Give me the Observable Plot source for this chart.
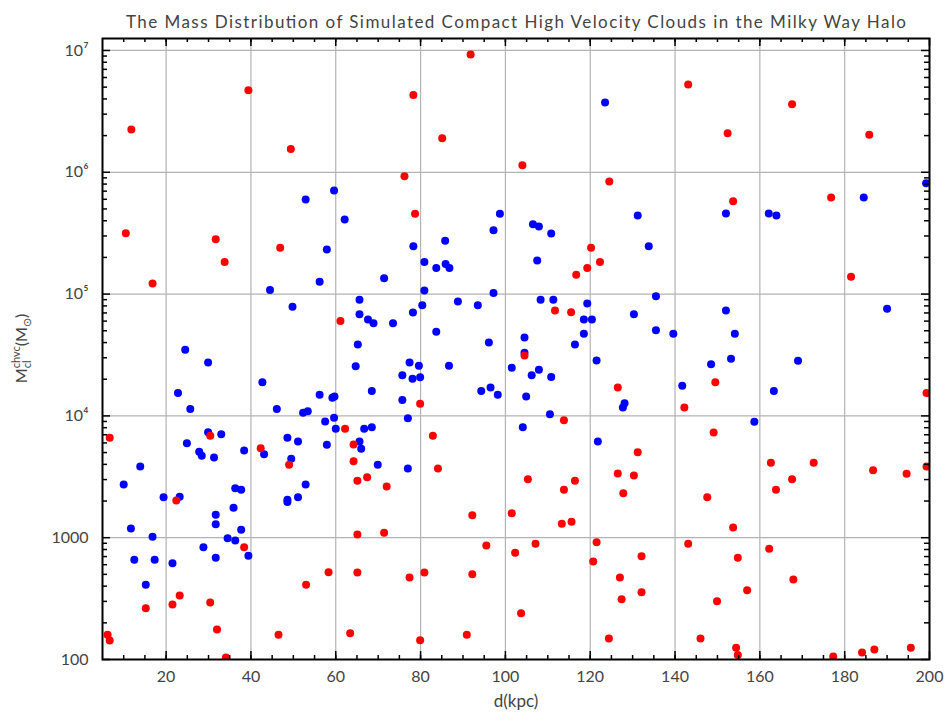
<!DOCTYPE html>
<html><head><meta charset="utf-8">
<script src="https://cdn.jsdelivr.net/npm/d3@7"></script>
<script src="https://cdn.jsdelivr.net/npm/@observablehq/plot@0.6"></script>
<style>body{margin:0;background:#fff;} svg{display:block;}</style>
</head><body><div id="chart"></div>
<script>
const titleText = "The Mass Distribution of Simulated Compact High Velocity Clouds in the Milky Way Halo";
const xLabel = "d(kpc)";
const xTicks = [20, 40, 60, 80, 100, 120, 140, 160, 180, 200];
const yTicks = [100, 1000, 1e4, 1e5, 1e6, 1e7];
const yTickLabels = ["100", "1000", "10⁴", "10⁵", "10⁶", "10⁷"];

const redD = [11.8, 39.4, 49.4, 10.5, 31.7, 33.8, 46.9, 16.8, 61.1, 6.7,
  30.4, 42.3, 49.0, 22.4, 38.4, 58.3, 53.0, 23.2, 21.5, 30.4,
  15.2, 32.0, 46.5, 6.2, 6.7, 34.1, 91.8, 78.3, 85.1, 104.0,
  76.2, 124.5, 78.7, 120.2, 122.3, 119.3, 116.7, 111.7, 115.5, 104.5,
  126.5, 79.9, 113.8, 62.2, 82.9, 64.2, 64.2, 84.1, 126.5, 65.1,
  67.4, 72.0, 105.3, 113.8, 116.4, 127.8, 92.2, 101.5, 113.3, 115.6,
  65.1, 71.4, 95.5, 102.3, 107.1, 121.5, 120.7, 65.1, 77.4, 80.9,
  92.2, 127.0, 127.4, 103.7, 63.4, 79.9, 90.9, 124.4, 143.1, 167.6,
  152.4, 185.8, 176.8, 153.7, 181.5, 149.5, 199.3, 142.2, 149.1, 131.2,
  162.6, 172.7, 186.7, 194.6, 199.3, 130.3, 167.6, 163.8, 147.6, 153.7,
  143.1, 132.1, 154.8, 162.2, 167.9, 132.1, 157.0, 149.9, 146.0, 154.4,
  154.8, 177.3, 184.1, 187.0, 195.6];
const redM = [2.25e6, 4.72e6, 1.55e6, 3.16e5, 2.82e5, 1.83e5, 2.40e5, 1.22e5, 6.0e4, 6610,
  6870, 5430, 3970, 2020, 836, 521, 410, 335, 283, 294,
  264, 176, 160, 160, 143, 104, 9.27e6, 4.30e6, 1.90e6, 1.14e6,
  9.29e5, 8.40e5, 4.56e5, 2.40e5, 1.83e5, 1.64e5, 1.44e5, 7.33e4, 7.10e4, 3.13e4,
  1.71e4, 1.26e4, 9200, 7840, 6870, 5820, 4250, 3700, 3370, 2930,
  3140, 2630, 3020, 2470, 2930, 2320, 1530, 1590, 1300, 1350,
  1060, 1100, 863, 752, 891, 918, 638, 518, 471, 518,
  502, 471, 313, 240, 164, 144, 160, 149, 5.26e6, 3.62e6,
  2.09e6, 2.03e6, 6.21e5, 5.79e5, 1.39e5, 1.89e4, 1.54e4, 1.17e4, 7310, 5040,
  4120, 4120, 3580, 3350, 3840, 3240, 3020, 2470, 2150, 1210,
  891, 705, 684, 811, 454, 357, 371, 301, 149, 125,
  109, 106, 114, 121, 125];

const blueD = [59.6, 52.9, 57.9, 56.2, 44.5, 49.8, 24.5, 29.9, 42.7, 22.8,
  56.2, 59.2, 59.7, 25.7, 46.1, 52.3, 53.4, 59.6, 57.5, 60.0,
  29.9, 33.0, 48.6, 51.1, 24.9, 57.9, 27.8, 28.4, 31.3, 38.4,
  43.1, 49.5, 13.9, 10.0, 52.9, 36.3, 37.7, 19.4, 23.2, 48.6,
  48.6, 51.1, 35.9, 31.7, 31.7, 11.7, 37.7, 16.8, 34.5, 36.3,
  28.8, 39.4, 12.5, 17.3, 31.7, 21.5, 15.2,
  62.1, 98.7, 97.2, 106.5, 107.9, 110.8, 78.3, 85.8, 107.5, 80.9,
  83.7, 85.9, 86.8, 71.4, 80.9, 97.2, 123.5, 65.6, 80.4, 88.8,
  93.5, 108.3, 111.3, 119.3, 65.6, 67.6, 68.9, 78.2, 73.5, 118.5,
  120.4, 83.7, 65.2, 96.1, 104.5, 116.4, 118.5, 104.5, 121.5, 64.7,
  77.4, 79.6, 86.7, 101.5, 75.7, 78.1, 79.9, 106.2, 107.9, 110.8,
  68.5, 94.3, 96.5, 98.2, 104.9, 75.7, 128.1, 127.7, 77.0, 110.5,
  66.7, 68.5, 104.1, 65.6, 66.0, 121.8, 69.9, 77.0,
  199.2, 184.5, 131.2, 152.0, 162.1, 163.9, 133.8, 135.5, 130.3, 152.0,
  190.0, 135.5, 139.6, 154.1, 148.5, 153.2, 169.0, 141.7, 163.3, 158.7];
const blueM = [7.09e5, 5.98e5, 2.32e5, 1.26e5, 1.08e5, 7.87e4, 3.49e4, 2.74e4, 1.89e4, 1.54e4,
  1.49e4, 1.41e4, 1.44e4, 1.14e4, 1.14e4, 1.06e4, 1.09e4, 9650, 8990, 7840,
  7350, 7080, 6610, 6170, 5970, 5790, 5070, 4700, 4550, 5200,
  4850, 4440, 3840, 2730, 2730, 2550, 2470, 2150, 2170, 2050,
  1960, 2150, 1760, 1540, 1290, 1190, 1160, 1020, 991, 948,
  836, 710, 659, 659, 684, 618, 410,
  4.10e5, 4.56e5, 3.35e5, 3.75e5, 3.59e5, 3.15e5, 2.47e5, 2.74e5, 1.89e5, 1.83e5,
  1.64e5, 1.77e5, 1.64e5, 1.35e5, 1.07e5, 1.02e5, 3.74e6, 8.98e4, 8.11e4, 8.69e4,
  8.11e4, 8.98e4, 8.98e4, 8.37e4, 6.84e4, 6.18e4, 5.77e4, 7.06e4, 5.77e4, 6.18e4,
  6.18e4, 4.90e4, 3.86e4, 4.01e4, 4.40e4, 3.86e4, 4.72e4, 3.30e4, 2.85e4, 2.56e4,
  2.74e4, 2.58e4, 2.58e4, 2.48e4, 2.16e4, 2.02e4, 2.08e4, 2.16e4, 2.39e4, 2.09e4,
  1.60e4, 1.60e4, 1.71e4, 1.49e4, 1.44e4, 1.35e4, 1.27e4, 1.17e4, 9570, 1.03e4,
  7840, 8070, 8070, 6170, 5370, 6170, 3970, 3700,
  8.14e5, 6.21e5, 4.42e5, 4.59e5, 4.59e5, 4.42e5, 2.47e5, 9.61e4, 6.84e4, 7.33e4,
  7.57e4, 5.05e4, 4.72e4, 4.72e4, 2.66e4, 2.94e4, 2.83e4, 1.77e4, 1.60e4, 8950];

const red = redD.map((d, i) => ({d, m: redM[i]}));
const blue = blueD.map((d, i) => ({d, m: blueM[i]}));

const W = 947, H = 721, mL = 102, mR = 18, mT = 38, mB = 62;
const plotW = W - mL - mR, plotH = H - mT - mB;
const xMinor = d3.range(10, 200, 5);
const yMinor = [];
for (let k = 2; k <= 6; k++) for (let m = 2; m <= 9; m++) yMinor.push(m * 10 ** k);

const tickColor = "#000";
const plot = Plot.plot({
  width: W, height: H,
  marginLeft: mL, marginRight: mR, marginTop: mT, marginBottom: mB,
  style: {fontFamily: "Lato, 'Open Sans', sans-serif", fontSize: "16px", color: "#444", background: "#fff"},
  x: {domain: [5, 200]},
  y: {type: "log", domain: [100, 1.254e7]},
  marks: [
    Plot.gridX(xTicks, {stroke: "#b3b3b3", strokeOpacity: 1, strokeWidth: 1.2}),
    Plot.gridY(yTicks, {stroke: "#b3b3b3", strokeOpacity: 1, strokeWidth: 1.2}),
    Plot.dot(blue, {x: "d", y: "m", r: 4, fill: "#0000ff", stroke: null, clip: true}),
    Plot.dot(red, {x: "d", y: "m", r: 4, fill: "#ff0000", stroke: null, clip: true}),
    // inward ticks: bottom/top
    Plot.ruleX(xMinor, {stroke: tickColor, strokeWidth: 1.5, insetTop: plotH - 4}),
    Plot.ruleX(xMinor, {stroke: tickColor, strokeWidth: 1.5, insetBottom: plotH - 4}),
    Plot.ruleX(xTicks, {stroke: tickColor, strokeWidth: 1.5, insetTop: plotH - 8}),
    Plot.ruleX(xTicks, {stroke: tickColor, strokeWidth: 1.5, insetBottom: plotH - 8}),
    // inward ticks: left/right
    Plot.ruleY(yMinor, {stroke: tickColor, strokeWidth: 1.5, insetRight: plotW - 5}),
    Plot.ruleY(yMinor, {stroke: tickColor, strokeWidth: 1.5, insetLeft: plotW - 5}),
    Plot.ruleY(yTicks, {stroke: tickColor, strokeWidth: 1.5, insetRight: plotW - 8}),
    Plot.ruleY(yTicks, {stroke: tickColor, strokeWidth: 1.5, insetLeft: plotW - 8}),
    Plot.frame({stroke: "#000", strokeWidth: 2}),
    Plot.axisX({ticks: xTicks, tickSize: 0, tickPadding: 11, fontSize: 16, label: null, tickFormat: d => String(d)}),
    Plot.axisY({ticks: yTicks, tickSize: 0, tickPadding: 14, fontSize: 16, label: null,
      tickFormat: d => yTickLabels[yTicks.indexOf(d)]}),
    Plot.text([xLabel], {frameAnchor: "bottom", dy: 47, fontSize: 17, fill: "#444"}),
    Plot.text([titleText], {frameAnchor: "top", dy: -23, fontSize: 17, fill: "#444", className: "ttl"})
  ]
});
document.getElementById("chart").appendChild(plot);

const svg = d3.select(plot);
// title width
svg.selectAll(".ttl text").attr("textLength", 780).attr("lengthAdjust", "spacing");

// y-axis label with sub/superscripts
const yl = svg.append("text")
  .attr("transform", `translate(27,${mT + plotH / 2}) rotate(-90)`)
  .attr("text-anchor", "middle")
  .attr("fill", "#444")
  .style("font-size", "16px");
yl.append("tspan").text("M");
const sub = yl.append("tspan").attr("font-size", 11).attr("dy", 4).text("cl");
const subW = sub.node().getComputedTextLength();
yl.append("tspan").attr("font-size", 11).attr("dx", -subW).attr("dy", -11).text("chvc");
yl.append("tspan").attr("dy", 7).text("(M");
yl.append("tspan").attr("font-size", 11).attr("dy", 4).text("⊙");
yl.append("tspan").attr("dy", -4).text(")");
</script>
</body></html>
